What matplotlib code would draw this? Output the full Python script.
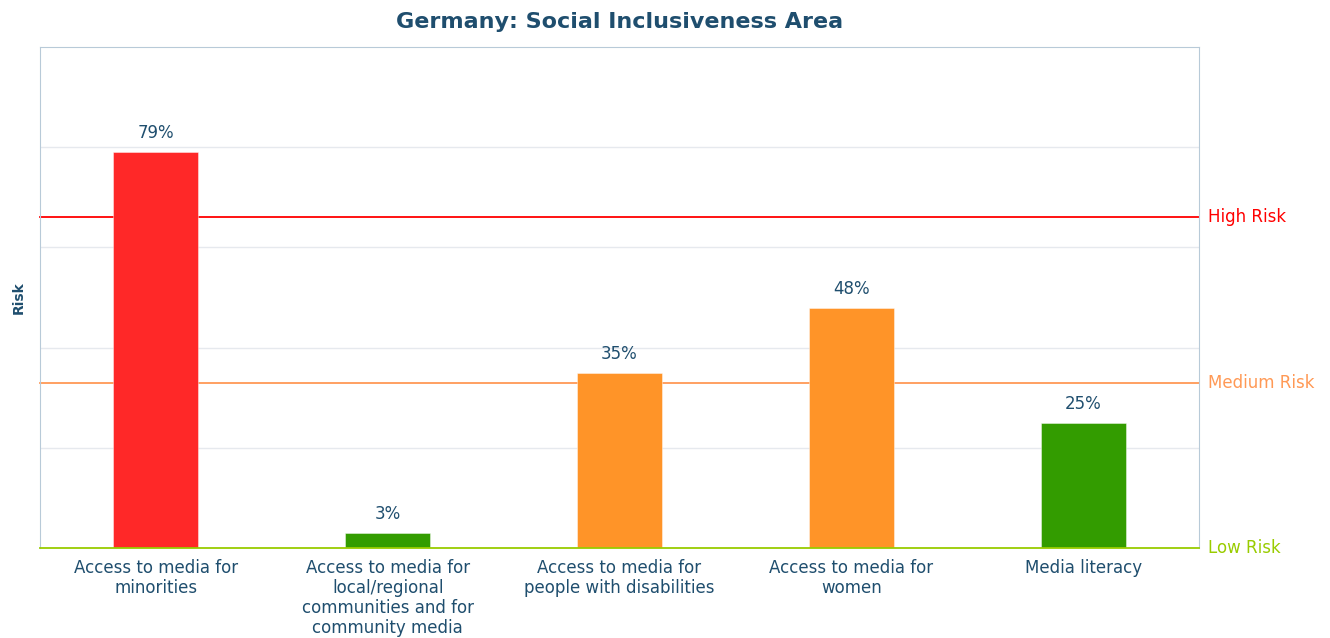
import matplotlib.pyplot as plt
import numpy as np

categories = ["Access to media for\nminorities",
              "Access to media for\nlocal/regional\ncommunities and for\ncommunity media",
              "Access to media for\npeople with disabilities",
              "Access to media for\nwomen",
              "Media literacy"]
values = [79, 3, 35, 48, 25]
bar_colors = ["#ff2828", "#339c00", "#ff9428", "#ff9428", "#339c00"]

thresholds = [66, 33, 0]
threshold_names = ["High Risk", "Medium Risk", "Low Risk"]
threshold_colors = ["#ff0000", "#ff9955", "#99cc00"]

text_col = "#1f4e6e"

fig = plt.figure(figsize=(13.3, 6.38), dpi=100)
ax = fig.add_axes([40/1330, 1-548/638, 1159/1330, 501/638])

x = np.arange(len(values))
bars = ax.bar(x, values, width=0.367, color=bar_colors, edgecolor="#ffffff80",
              linewidth=0.6, zorder=3)
for xi, v in zip(x, values):
    ax.text(xi, v + 2.0, f"{v}%", ha="center", va="bottom", color=text_col, fontsize=12)

for t, n, c in zip(thresholds, threshold_names, threshold_colors):
    ax.axhline(t, color=c, lw=1.3, zorder=2 if t > 0 else 4, clip_on=False)
    ax.text(1.0075, t, n, transform=ax.get_yaxis_transform(), color=c,
            fontsize=12, va="center", ha="left")

ax.set_xlim(-0.5, 4.5)
ax.set_ylim(0, 100)
ax.set_yticks([20, 40, 60, 80])
ax.yaxis.grid(True, color="#e6e9ee", lw=1, zorder=0)
ax.tick_params(axis="y", length=0, labelleft=False)
ax.set_xticks(x)
ax.set_xticklabels(categories, color=text_col, fontsize=12, va="top", linespacing=1.15)
ax.tick_params(axis="x", length=0, pad=8)

for s in ["left", "right", "top"]:
    ax.spines[s].set_color("#b8cad8")
ax.spines["bottom"].set_visible(False)

ax.set_ylabel("Risk", color=text_col, fontsize=10, fontweight="bold", labelpad=10)
ax.set_title("Germany: Social Inclusiveness Area", color=text_col, fontsize=16,
             fontweight="bold", pad=14)

fig.savefig("out.png", dpi=100)
